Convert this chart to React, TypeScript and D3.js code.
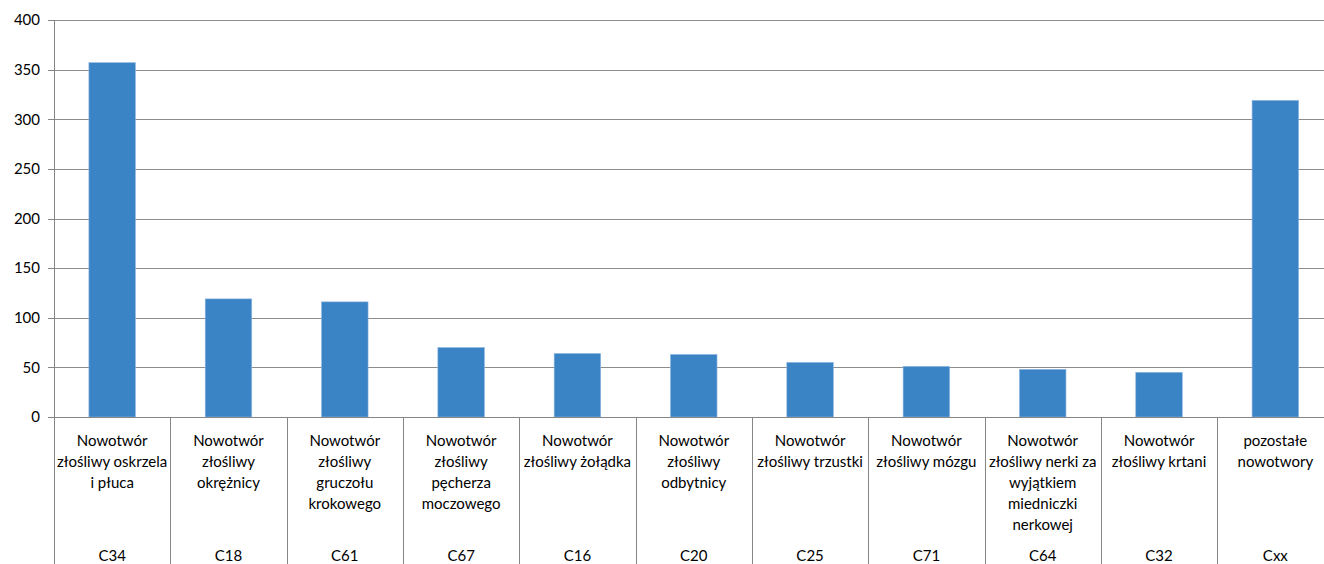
import React, { useEffect, useRef } from 'react';
import * as d3 from 'd3';

const codes = ['C34', 'C18', 'C61', 'C67', 'C16', 'C20', 'C25', 'C71', 'C64', 'C32', 'Cxx'];
const names = [
  ['Nowotwór', 'złośliwy oskrzela', 'i płuca'],
  ['Nowotwór', 'złośliwy', 'okrężnicy'],
  ['Nowotwór', 'złośliwy', 'gruczołu', 'krokowego'],
  ['Nowotwór', 'złośliwy', 'pęcherza', 'moczowego'],
  ['Nowotwór', 'złośliwy żołądka'],
  ['Nowotwór', 'złośliwy', 'odbytnicy'],
  ['Nowotwór', 'złośliwy trzustki'],
  ['Nowotwór', 'złośliwy mózgu'],
  ['Nowotwór', 'złośliwy nerki za', 'wyjątkiem', 'miedniczki', 'nerkowej'],
  ['Nowotwór', 'złośliwy krtani'],
  ['pozostałe', 'nowotwory'],
];
const values = [357, 119, 116, 70, 64, 63, 55, 51, 48, 45, 319];
const yTicks = [0, 50, 100, 150, 200, 250, 300, 350, 400];

const W = 1324;
const H = 564;
const left = 54;
const right = 1333.5;
const top = 20;
const bottom = 417;

const App: React.FC = () => {
  const svgRef = useRef<SVGSVGElement>(null);

  useEffect(() => {
    document.body.style.margin = '0';
    if (!svgRef.current) return;
    const svg = d3.select(svgRef.current);
    svg.selectAll('*').remove();

    const x = d3.scaleBand<string>().domain(codes).range([left, right]).paddingInner(0.6).paddingOuter(0.3);
    const step = x.step();
    const y = d3.scaleLinear().domain([0, 400]).range([bottom, top]);
    const font = 'Lato, "Open Sans", sans-serif';

    // gridlines
    svg.append('g')
      .selectAll('line')
      .data(yTicks.filter((t) => t > 0))
      .enter()
      .append('line')
      .attr('x1', left)
      .attr('x2', W)
      .attr('y1', (d) => Math.round(y(d)) + 0.5)
      .attr('y2', (d) => Math.round(y(d)) + 0.5)
      .attr('stroke', '#8c8c8c')
      .attr('stroke-width', 1);

    // bars
    svg.append('g')
      .selectAll('rect')
      .data(codes)
      .enter()
      .append('rect')
      .attr('x', (d) => x(d)!)
      .attr('y', (_, i) => y(values[i]))
      .attr('width', x.bandwidth())
      .attr('height', (_, i) => bottom - y(values[i]))
      .attr('fill', '#3a84c6')
      .attr('stroke', '#8fb6e0')
      .attr('stroke-width', 0.6);

    // y axis
    svg.append('line')
      .attr('x1', left + 0.5).attr('x2', left + 0.5)
      .attr('y1', top).attr('y2', H)
      .attr('stroke', '#868686');
    svg.append('g')
      .selectAll('line')
      .data(yTicks)
      .enter()
      .append('line')
      .attr('x1', left - 6)
      .attr('x2', left)
      .attr('y1', (d) => Math.round(y(d)) + 0.5)
      .attr('y2', (d) => Math.round(y(d)) + 0.5)
      .attr('stroke', '#868686');
    svg.append('g')
      .selectAll('text')
      .data(yTicks)
      .enter()
      .append('text')
      .attr('x', 40)
      .attr('y', (d) => y(d))
      .attr('dy', '0.35em')
      .attr('text-anchor', 'end')
      .attr('font-family', font)
      .attr('font-size', 15)
      .attr('fill', '#000')
      .text((d) => d);

    // x axis
    svg.append('line')
      .attr('x1', left).attr('x2', W)
      .attr('y1', bottom + 0.5).attr('y2', bottom + 0.5)
      .attr('stroke', '#868686');
    svg.append('g')
      .selectAll('line')
      .data(d3.range(1, codes.length))
      .enter()
      .append('line')
      .attr('x1', (i) => Math.round(left + i * step) + 0.5)
      .attr('x2', (i) => Math.round(left + i * step) + 0.5)
      .attr('y1', bottom)
      .attr('y2', H)
      .attr('stroke', '#868686');

    const labels = svg.append('g')
      .selectAll('g')
      .data(codes)
      .enter()
      .append('g')
      .attr('transform', (d) => `translate(${x(d)! + x.bandwidth() / 2},0)`);
    labels.append('text')
      .attr('text-anchor', 'middle')
      .attr('font-family', font)
      .attr('font-size', 15)
      .attr('fill', '#000')
      .selectAll('tspan')
      .data((_, i) => names[i])
      .enter()
      .append('tspan')
      .attr('x', 0)
      .attr('y', (_, j) => 446 + j * 21)
      .text((t) => t);
    labels.append('text')
      .attr('text-anchor', 'middle')
      .attr('font-family', font)
      .attr('font-size', 15)
      .attr('fill', '#000')
      .attr('y', 561)
      .text((d) => d);
  }, []);

  return <svg ref={svgRef} width={W} height={H} style={{ display: 'block', background: '#fff' }} />;
};

export default App;
